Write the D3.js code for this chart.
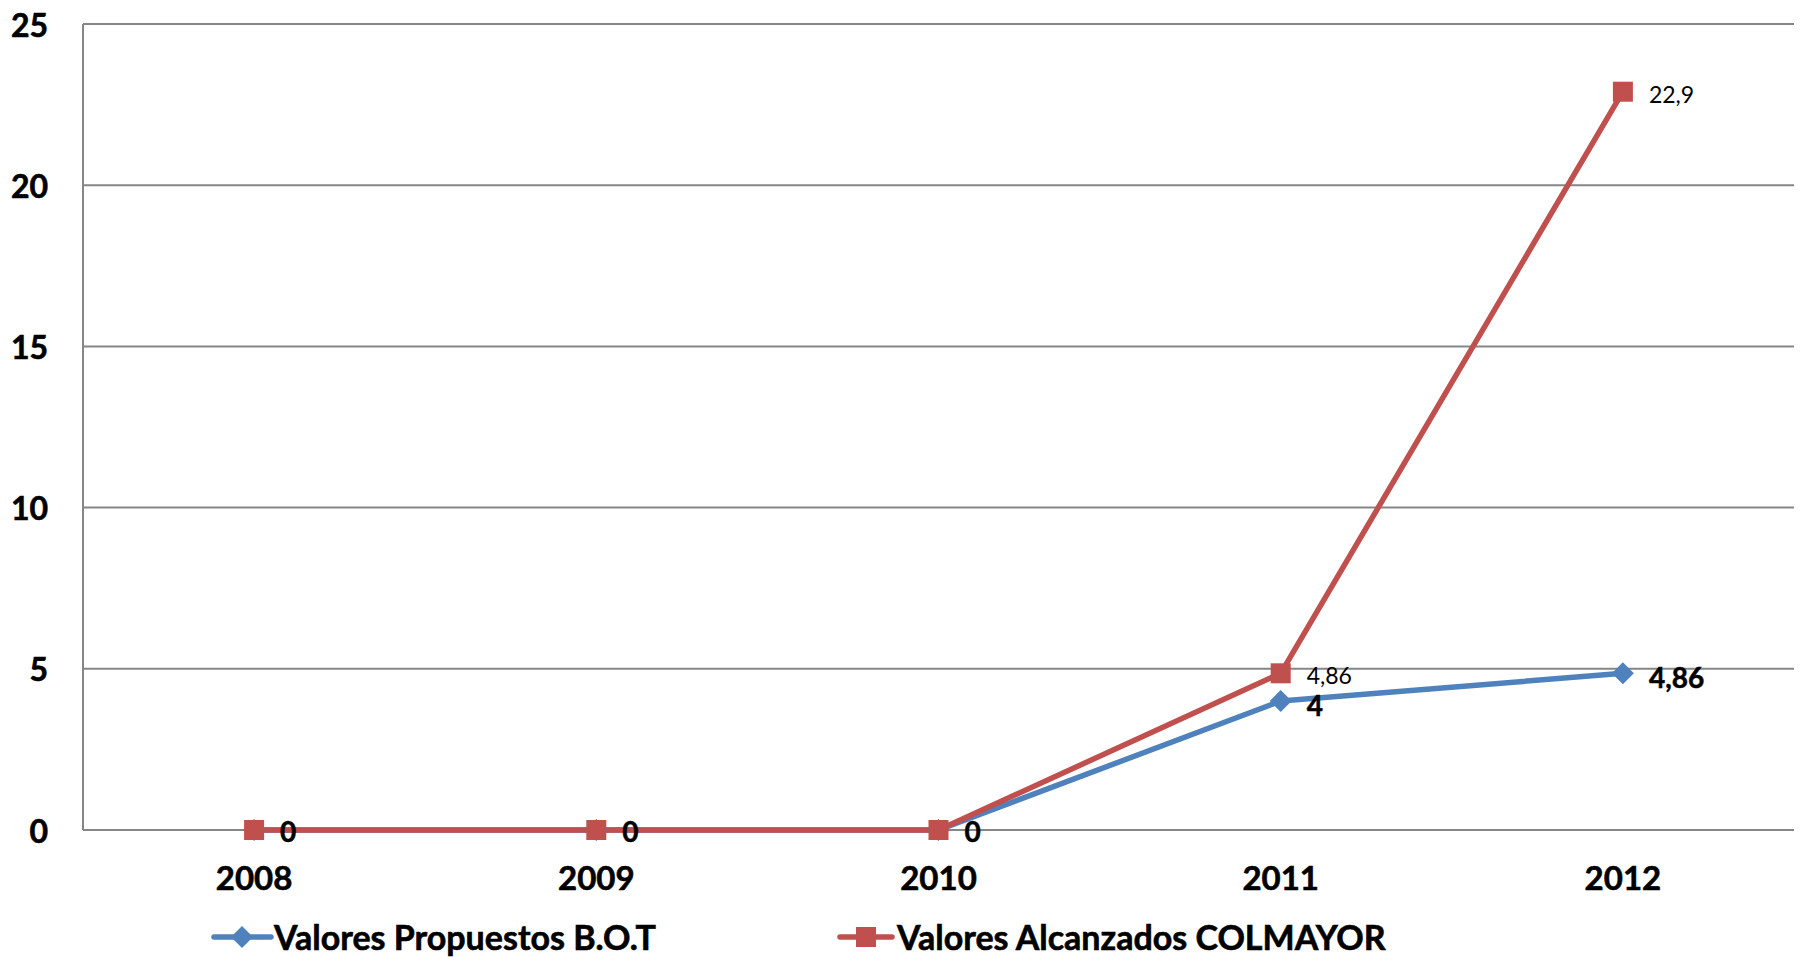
<!DOCTYPE html>
<html>
<head>
<meta charset="utf-8">
<script src="https://cdn.jsdelivr.net/npm/d3@7"></script>
<style>
  html, body { margin: 0; padding: 0; background: #fff; }
  svg { display: block; font-family: Lato, "Open Sans", sans-serif; }
</style>
</head>
<body>
<svg id="chart"></svg>
<script>
const years = ['2008', '2009', '2010', '2011', '2012'];
const propuestos = [0, 0, 0, 4, 4.86];
const alcanzados = [0, 0, 0, 4.86, 22.9];
const yTicks = [0, 5, 10, 15, 20, 25];
const seriesNames = ['Valores Propuestos B.O.T', 'Valores Alcanzados COLMAYOR'];

const width = 1810, height = 957;
const margin = { top: 24, right: 16, bottom: 127, left: 83 };
const blue = '#4f81bd', red = '#c0504d', grid = '#868686';

const fmt = d3.formatLocale({ decimal: ',', thousands: '.', grouping: [3], currency: ['', ''] }).format('~g');

const svg = d3.select('#chart').attr('width', width).attr('height', height);

const x = d3.scalePoint()
  .domain(years)
  .range([margin.left, width - margin.right])
  .padding(0.5);

const y = d3.scaleLinear()
  .domain([0, 25])
  .range([height - margin.bottom, margin.top]);

// gridlines
svg.append('g')
  .selectAll('line')
  .data(yTicks)
  .join('line')
  .attr('x1', margin.left)
  .attr('x2', width - margin.right)
  .attr('y1', d => y(d))
  .attr('y2', d => y(d))
  .attr('stroke', grid)
  .attr('stroke-width', 2);

// left axis line
svg.append('line')
  .attr('x1', margin.left).attr('x2', margin.left)
  .attr('y1', y(25)).attr('y2', y(0))
  .attr('stroke', grid)
  .attr('stroke-width', 2);

// y labels
svg.append('g')
  .selectAll('text')
  .data(yTicks)
  .join('text')
  .attr('x', 48)
  .attr('y', d => y(d))
  .attr('text-anchor', 'end')
  .attr('dominant-baseline', 'central')
  .attr('font-size', 32)
  .attr('font-weight', 'bold')
  .attr('stroke', '#000').attr('stroke-width', 0.6)
  .text(d => d);

// x labels
svg.append('g')
  .selectAll('text')
  .data(years)
  .join('text')
  .attr('x', d => x(d))
  .attr('y', 890)
  .attr('text-anchor', 'middle')
  .attr('font-size', 33)
  .attr('font-weight', 'bold')
  .attr('stroke', '#000').attr('stroke-width', 0.6)
  .text(d => d);

const line = d3.line()
  .x((d, i) => x(years[i]))
  .y(d => y(d));

// series lines
svg.append('path')
  .datum(propuestos)
  .attr('d', line)
  .attr('fill', 'none')
  .attr('stroke', blue)
  .attr('stroke-width', 5.5)
  .attr('stroke-linejoin', 'round');

svg.append('path')
  .datum(alcanzados)
  .attr('d', line)
  .attr('fill', 'none')
  .attr('stroke', red)
  .attr('stroke-width', 5.5)
  .attr('stroke-linejoin', 'round');

const diamond = 'M0,-11L11,0L0,11L-11,0Z';

svg.append('g')
  .selectAll('path')
  .data(propuestos)
  .join('path')
  .attr('d', diamond)
  .attr('transform', (d, i) => `translate(${x(years[i])},${y(d)})`)
  .attr('fill', blue);

svg.append('g')
  .selectAll('rect')
  .data(alcanzados)
  .join('rect')
  .attr('x', (d, i) => x(years[i]) - 10)
  .attr('y', d => y(d) - 10)
  .attr('width', 20)
  .attr('height', 20)
  .attr('fill', red);

// data labels
svg.append('g')
  .selectAll('text')
  .data(alcanzados.map((v, i) => ({ v, i })).filter(d => d.v > 0))
  .join('text')
  .attr('x', d => x(years[d.i]) + 26)
  .attr('y', d => y(d.v) + 2)
  .attr('dominant-baseline', 'central')
  .attr('font-size', 23)
  .text(d => fmt(d.v));

svg.append('g')
  .selectAll('text')
  .data(propuestos)
  .join('text')
  .attr('x', (d, i) => x(years[i]) + 26)
  .attr('y', d => y(d) + (d > 0 ? 4 : 1))
  .attr('dominant-baseline', 'central')
  .attr('font-size', 28)
  .attr('font-weight', 'bold')
  .attr('stroke', '#000').attr('stroke-width', 0.5)
  .text(d => fmt(d));

// legend
const legendY = 937;
const legend = svg.append('g');

const lg1 = legend.append('g');
lg1.append('line')
  .attr('x1', 214).attr('x2', 271)
  .attr('y1', legendY).attr('y2', legendY)
  .attr('stroke', blue).attr('stroke-width', 5.5).attr('stroke-linecap', 'round');
lg1.append('path')
  .attr('d', diamond)
  .attr('transform', `translate(242,${legendY})`)
  .attr('fill', blue);
lg1.append('text')
  .attr('x', 274).attr('y', legendY - 1)
  .attr('dominant-baseline', 'central')
  .attr('font-size', 34).attr('font-weight', 'bold')
  .attr('stroke', '#000').attr('stroke-width', 0.6)
  .text(seriesNames[0]);

const lg2 = legend.append('g');
lg2.append('line')
  .attr('x1', 840).attr('x2', 892)
  .attr('y1', legendY).attr('y2', legendY)
  .attr('stroke', red).attr('stroke-width', 5.5).attr('stroke-linecap', 'round');
lg2.append('rect')
  .attr('x', 856).attr('y', legendY - 10)
  .attr('width', 20).attr('height', 20)
  .attr('fill', red);
lg2.append('text')
  .attr('x', 897).attr('y', legendY - 1)
  .attr('dominant-baseline', 'central')
  .attr('font-size', 34).attr('font-weight', 'bold')
  .attr('stroke', '#000').attr('stroke-width', 0.6)
  .text(seriesNames[1]);
</script>
</body>
</html>
